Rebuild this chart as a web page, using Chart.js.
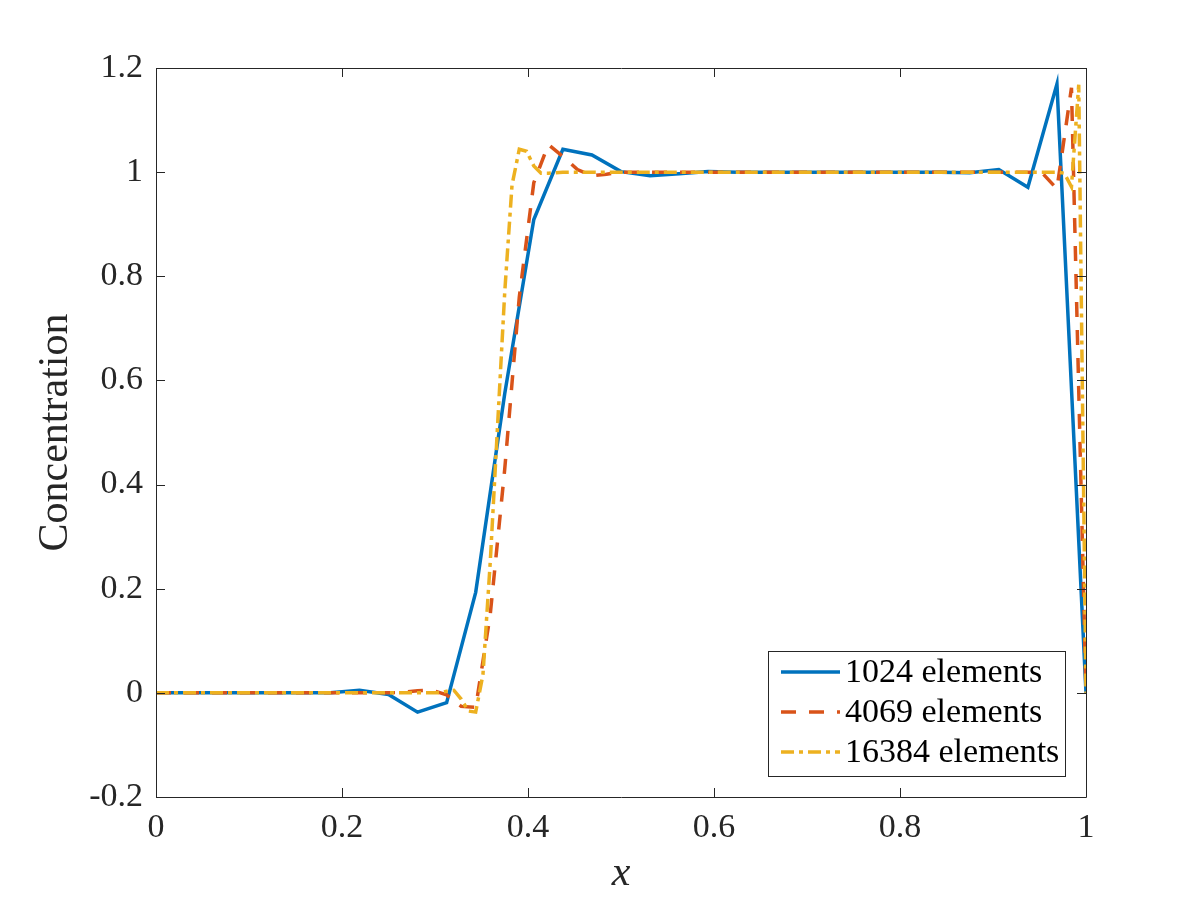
<!DOCTYPE html>
<html>
<head>
<meta charset="utf-8">
<script src="https://cdn.jsdelivr.net/npm/chart.js@4/dist/chart.umd.min.js"></script>
<style>
  html, body { margin: 0; padding: 0; background: #fff; }
  #wrap { width: 1200px; height: 900px; }
</style>
</head>
<body>
<div id="wrap"><canvas id="conc-chart" width="1200" height="900"></canvas></div>
<script>
// concentration profiles, sampled on uniform grids over [0, 1]
const labels = ['1024 elements', '4069 elements', '16384 elements'];
const colors = ['#0072BD', '#D95319', '#EDB120'];

// 33 points (1/32 spacing)
const c1024 = [
  0, 0, 0, 0, 0, 0, 0, 0.005, -0.003, -0.037, -0.019, 0.193, 0.575,
  0.909, 1.044, 1.033, 1.001, 0.993, 0.997, 1.001,
  1, 1, 1, 1, 1, 1, 1, 1,
  0.999, 1.005, 0.971, 1.169, 0
];

// 65 points (1/64 spacing)
const c4069 = [
  0, 0, 0, 0, 0, 0, 0, 0, 0, 0, 0, 0, 0, 0, 0, 0,
  0, 0.001, 0.004, 0.005, -0.004, -0.026, -0.028, 0.15, 0.43, 0.76, 0.98,
  1.053, 1.03, 1.005, 0.993, 0.996, 1,
  1, 1, 1, 1, 1, 1, 1, 1, 1, 1, 1, 1, 1, 1,
  1, 1, 1, 1, 1, 1, 1, 1, 1, 1, 1, 1, 1, 1,
  0.998, 0.968, 1.162, 0
];

// 129 points (1/128 spacing)
const c16384 = [
  0, 0, 0, 0, 0, 0, 0, 0, 0, 0, 0, 0, 0, 0, 0, 0, 0, 0, 0, 0,
  0, 0, 0, 0, 0, 0, 0, 0, 0, 0, 0, 0, 0, 0, 0, 0, 0, 0, 0, 0,
  0.003, 0.005, -0.012, -0.035, -0.037, 0.035, 0.25, 0.51, 0.77, 0.975,
  1.044, 1.04, 1.012, 0.998, 0.998, 0.999,
  1, 1, 1, 1, 1, 1, 1, 1, 1, 1, 1, 1, 1, 1, 1, 1, 1, 1, 1, 1, 1, 1, 1,
  1, 1, 1, 1, 1, 1, 1, 1, 1, 1, 1, 1, 1, 1, 1, 1, 1, 1, 1, 1, 1, 1, 1,
  1, 1, 1, 1, 1, 1, 1, 1, 1, 1, 1, 1, 1, 1, 1, 1, 1, 1, 1, 1, 1, 1, 1,
  0.998, 0.972, 1.168, 0
];

const xTicks = [0, 0.2, 0.4, 0.6, 0.8, 1];
const yTicks = [-0.2, 0, 0.2, 0.4, 0.6, 0.8, 1, 1.2];

const serif = "'Liberation Serif', 'DejaVu Serif', serif";
const ink = '#262626';

function toPoints(vals) {
  const n = vals.length - 1;
  return vals.map((v, i) => ({ x: i / n, y: v }));
}

const dashes = [[], [15, 13], [13, 5, 4, 5]];

// MATLAB-style box with inward ticks
const boxTicks = {
  id: 'boxTicks',
  afterDraw(chart) {
    const { ctx, chartArea: a, scales } = chart;
    const len = 9;
    ctx.save();
    ctx.strokeStyle = ink;
    ctx.lineWidth = 1;
    ctx.beginPath();
    ctx.rect(a.left + 0.5, a.top + 0.5, a.right - a.left, a.bottom - a.top);
    xTicks.forEach(t => {
      const px = Math.round(scales.x.getPixelForValue(t)) + 0.5;
      ctx.moveTo(px, a.bottom); ctx.lineTo(px, a.bottom - len);
      ctx.moveTo(px, a.top); ctx.lineTo(px, a.top + len);
    });
    yTicks.forEach(t => {
      const py = Math.round(scales.y.getPixelForValue(t)) + 0.5;
      ctx.moveTo(a.left, py); ctx.lineTo(a.left + len, py);
      ctx.moveTo(a.right, py); ctx.lineTo(a.right - len, py);
    });
    ctx.stroke();
    ctx.restore();
  }
};

// legend box inside the lower right corner
const boxLegend = {
  id: 'boxLegend',
  afterDraw(chart) {
    const { ctx, chartArea: a } = chart;
    const w = 297, h = 125;
    const x0 = a.right - 21 - w, y0 = a.bottom - 21 - h;
    ctx.save();
    ctx.fillStyle = '#fff';
    ctx.fillRect(x0, y0, w, h);
    ctx.strokeStyle = ink;
    ctx.lineWidth = 1;
    ctx.strokeRect(x0 + 0.5, y0 + 0.5, w, h);
    ctx.font = '34px ' + serif;
    ctx.textBaseline = 'middle';
    ctx.fillStyle = '#000';
    chart.data.datasets.forEach((ds, i) => {
      const yy = y0 + 21 + i * 40;
      ctx.beginPath();
      ctx.strokeStyle = ds.borderColor;
      ctx.lineWidth = ds.borderWidth;
      ctx.setLineDash(ds.borderDash || []);
      ctx.moveTo(x0 + 13, yy);
      ctx.lineTo(x0 + 72, yy);
      ctx.stroke();
      ctx.setLineDash([]);
      ctx.fillText(ds.label, x0 + 77, yy + 1);
    });
    ctx.restore();
  }
};

const series = [c1024, c4069, c16384];

const ctx = document.getElementById('conc-chart').getContext('2d');
const concChart = new Chart(ctx, {
  type: 'line',
  data: {
    datasets: series.map((vals, i) => ({
      label: labels[i],
      data: toPoints(vals),
      borderColor: colors[i],
      backgroundColor: colors[i],
      borderWidth: 3.5,
      borderDash: dashes[i],
      pointRadius: 0,
      tension: 0,
      fill: false,
      order: 2 - i
    }))
  },
  options: {
    responsive: false,
    animation: false,
    layout: { padding: { left: 0, top: 68, right: 114, bottom: 0 } },
    plugins: {
      legend: { display: false },
      tooltip: { enabled: false }
    },
    scales: {
      x: {
        type: 'linear',
        min: 0,
        max: 1,
        afterFit: s => { s.height = 103; },
        afterBuildTicks: s => { s.ticks = xTicks.map(v => ({ value: v })); },
        grid: { display: false, drawTicks: false },
        border: { display: false },
        ticks: {
          color: ink,
          padding: 11,
          maxRotation: 0,
          font: { family: serif, size: 34 },
          callback: v => String(+v.toFixed(1))
        },
        title: {
          display: true,
          text: 'x',
          color: ink,
          padding: { top: 0, bottom: 1 },
          font: { family: serif, size: 42, style: 'italic' }
        }
      },
      y: {
        type: 'linear',
        min: -0.2,
        max: 1.2,
        afterFit: s => { s.width = 156; },
        afterBuildTicks: s => { s.ticks = yTicks.map(v => ({ value: v })); },
        grid: { display: false, drawTicks: false },
        border: { display: false },
        ticks: {
          color: ink,
          padding: 13,
          font: { family: serif, size: 34 },
          callback: v => String(+v.toFixed(1))
        },
        title: {
          display: true,
          text: 'Concentration',
          color: ink,
          padding: { top: 31, bottom: 0 },
          font: { family: serif, size: 42 }
        }
      }
    }
  },
  plugins: [boxTicks, boxLegend]
});
</script>
</body>
</html>
